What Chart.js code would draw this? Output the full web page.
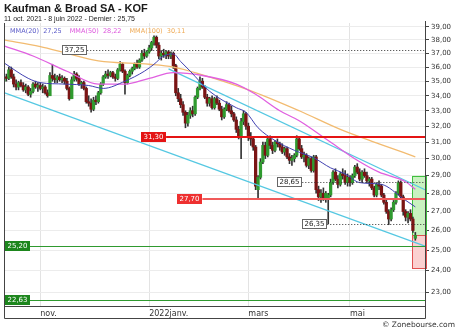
<!DOCTYPE html>
<html><head><meta charset="utf-8">
<script src="https://cdn.jsdelivr.net/npm/chart.js@4.4.1/dist/chart.umd.min.js"></script>
<style>
html,body{margin:0;padding:0;background:#fff;}
#wrap{position:relative;width:460px;height:331px;overflow:hidden;}
#c{position:absolute;left:0;top:0;}
.t{position:absolute;white-space:nowrap;line-height:1;}
#title{left:4px;top:2px;font:bold 11px "Liberation Sans",Arial,sans-serif;color:#1a1a1a;}
#sub{left:4px;top:15px;font:7px "Liberation Sans",Arial,sans-serif;color:#222;}
#leg{left:10px;top:27px;font:6.5px "DejaVu Sans",sans-serif;}
#leg span{margin-right:8px;}
#copy{right:5px;top:320px;font:7.5px "DejaVu Sans",sans-serif;color:#333;}
</style></head><body>
<div id="wrap">
<canvas id="c" width="460" height="331"></canvas>
<div class="t" id="title">Kaufman &amp; Broad SA - KOF</div>
<div class="t" id="sub">11 oct. 2021 - 8 juin 2022 - Dernier : 25,75</div>
<div class="t" id="leg"></div>
<div class="t" id="copy">© Zonebourse.com</div>
</div>
<script>
// ---- daily candles (Oct 11 2021 -> Jun 8 2022) ----
const opens = [
35.0,35.3,35.2,35.8,35.3,34.8,34.6,34.9,34.7,34.4,34.6,34.1,34.3,34.8,34.6,
34.7,34.5,34.6,34.2,34.0,35.4,35.2,35.1,35.3,35.1,35.2,35.0,34.5,33.8,35.1,35.5,35.2,34.8,34.9,34.5,33.6,33.5,
33.1,33.7,33.6,34.2,34.8,35.3,35.5,35.4,35.6,35.3,35.2,35.8,36.2,35.7,34.9,35.4,35.7,35.9,36.2,36.0,36.5,37.0,36.8,
37.1,37.4,37.8,38.2,37.6,36.8,37.0,36.9,37.1,36.8,37.0,36.1,34.2,33.8,33.4,32.9,32.2,32.7,33.0,32.8,33.9,
34.5,35.0,34.6,33.9,33.5,33.8,33.2,33.8,33.5,33.1,32.6,33.1,33.4,33.0,32.8,32.4,31.8,31.3,32.3,32.8,
32.0,31.3,31.2,30.7,28.2,28.9,29.8,30.8,30.2,31.2,30.8,30.5,31.0,30.9,30.7,30.4,30.6,30.1,29.9,30.0,30.2,31.2,30.6,
30.1,30.2,29.6,30.0,29.3,30.1,28.2,27.8,28.0,27.7,27.7,27.9,28.6,29.2,28.8,28.5,29.1,29.0,28.6,
28.9,28.6,29.0,29.5,29.2,28.8,29.2,29.0,28.7,28.8,28.3,27.9,28.5,28.4,27.9,27.5,27.0,26.6,27.1,27.5,28.0,28.6,
27.8,27.0,26.7,26.9,26.6,25.6];
const highs = [
35.4,35.5,36.0,36.0,35.5,35.1,35.0,35.1,34.9,34.8,34.7,34.5,34.9,35.0,34.9,
34.9,34.8,34.7,34.4,35.6,36.2,35.5,35.4,35.5,35.4,35.3,35.2,34.6,35.3,35.7,35.6,35.4,35.0,35.0,34.6,34.0,33.8,
33.9,34.0,34.3,34.9,35.4,35.7,35.8,35.7,35.7,35.5,35.9,36.4,36.3,35.8,35.5,35.8,36.0,36.3,36.5,36.6,37.2,37.3,37.2,
37.6,37.9,38.3,38.3,37.8,37.2,37.3,37.2,37.2,37.1,37.1,36.2,34.5,34.1,33.6,33.0,32.9,33.2,33.3,34.0,34.6,
35.3,35.2,34.7,34.1,33.9,34.0,33.9,34.0,33.7,33.3,33.2,33.6,33.5,33.3,32.9,32.6,32.0,32.5,33.0,32.9,
32.2,31.6,31.3,30.8,29.0,30.0,31.0,31.0,31.3,31.4,31.0,31.1,31.2,31.0,30.9,30.7,30.7,30.3,30.2,30.3,31.4,31.3,30.8,
30.4,30.3,30.1,30.1,30.2,30.2,28.4,28.2,28.3,28.1,28.0,28.8,29.3,29.4,29.0,29.2,29.4,29.3,29.1,
29.0,29.1,29.6,29.7,29.4,29.3,29.4,29.2,28.9,28.9,28.4,28.6,28.7,28.5,28.0,27.7,27.1,27.2,27.6,28.1,28.7,28.7,
27.9,27.1,27.0,27.1,26.7,25.9];
const lows = [
34.9,35.0,35.1,35.2,34.6,34.4,34.4,34.6,34.3,34.2,34.0,33.9,34.2,34.5,34.3,
34.4,34.2,34.1,33.9,34.0,35.0,34.9,34.9,35.0,34.9,34.8,34.4,33.7,33.8,35.0,35.0,34.7,34.5,34.4,33.5,33.3,32.9,
33.0,33.4,33.5,34.1,34.7,35.2,35.2,35.3,35.2,35.0,35.1,35.7,35.6,34.1,34.8,35.3,35.5,35.8,35.9,35.9,36.4,36.6,36.7,
37.0,37.2,37.6,37.4,36.6,36.5,36.7,36.6,36.6,36.6,35.9,34.0,33.6,33.2,32.7,31.9,32.0,32.5,32.6,32.7,33.8,
34.4,34.5,33.8,33.3,33.3,33.1,33.1,33.4,33.0,32.4,32.5,33.0,32.9,32.6,32.3,31.6,31.2,30.0,32.1,31.8,
31.1,30.8,30.5,28.2,27.7,28.8,29.7,30.0,30.1,30.6,30.3,30.4,30.7,30.5,30.3,30.2,30.0,29.7,29.6,29.8,30.1,30.5,30.0,
29.8,29.5,29.4,29.2,29.2,28.0,27.6,27.5,27.6,27.5,26.35,27.8,28.5,28.7,28.3,28.4,28.8,28.5,28.4,
28.4,28.5,28.9,29.1,28.7,28.6,28.9,28.6,28.4,28.2,27.8,27.8,28.2,27.8,27.4,26.9,26.3,26.5,27.0,27.4,27.9,27.7,
26.8,26.5,26.4,26.5,25.9,25.5];
const closes = [
35.3,35.2,35.8,35.3,34.8,34.6,34.9,34.7,34.4,34.6,34.1,34.3,34.8,34.6,34.7,
34.5,34.6,34.2,34.0,35.4,35.2,35.1,35.3,35.1,35.2,35.0,34.5,33.8,35.1,35.5,35.2,34.8,34.9,34.5,33.6,33.5,33.1,
33.7,33.6,34.2,34.8,35.3,35.5,35.4,35.6,35.3,35.2,35.8,36.2,35.7,34.9,35.4,35.7,35.9,36.2,36.0,36.5,37.0,36.8,37.1,
37.4,37.8,38.2,37.6,36.8,37.0,36.9,37.1,36.8,37.0,36.1,34.2,33.8,33.4,32.9,32.2,32.7,33.0,32.8,33.9,34.5,
35.0,34.6,33.9,33.5,33.8,33.2,33.8,33.5,33.1,32.6,33.1,33.4,33.0,32.8,32.4,31.8,31.3,32.3,32.8,32.0,
31.3,31.2,30.7,28.4,28.9,29.8,30.8,30.2,31.2,30.8,30.5,31.0,30.9,30.7,30.4,30.6,30.1,29.9,30.0,30.2,31.2,30.6,30.1,
30.2,29.6,30.0,29.3,30.1,28.2,27.8,28.0,27.7,28.0,27.9,28.6,29.2,28.8,28.5,29.1,29.0,28.6,28.9,
28.6,29.0,29.5,29.2,28.8,29.2,29.0,28.7,28.8,28.3,27.9,28.5,28.4,27.9,27.5,27.0,26.6,27.1,27.5,28.0,28.6,27.8,
27.0,26.7,26.9,26.6,26.0,25.75];

// ---- moving averages (values read at given trading-day indices) ----
const ma20Idx = [0,10,15,25,35,41,50,58,62,66,70,73,77,85,96,100,105,112,120,128,135,141,147,156,165,170];
const ma20    = [36.3,35.2,34.9,34.8,34.7,34.5,35.0,35.7,36.2,36.8,36.95,36.4,35.7,34.3,33.2,32.9,31.9,31.1,30.5,30.05,29.45,29.1,28.6,28.5,27.7,27.25];
const ma50Idx = [0,12,26,39,50,60,70,82,96,104,114,122,134,146,155,166,170];
const ma50    = [37.55,36.8,35.7,34.8,34.8,35.2,35.6,35.4,34.8,34.1,33.0,32.35,31.1,29.9,29.2,28.65,28.22];
const ma100Idx = [0,15,26,39,60,70,81,101,122,139,155,170];
const ma100    = [38.0,37.5,37.0,36.45,36.2,36.0,35.5,34.4,33.0,31.8,30.9,30.11];
const maNames = ['MMA(20)','MMA(50)','MMA(100)'];

// ---- trend channel (index, price) ----
const trendUpIdx = [68,174], trendUp = [35.87,28.2];
const trendLoIdx = [0,174],  trendLo = [34.21,25.2];

// ---- horizontal levels ----
const levelValues = [37.25, 31.30, 27.70, 28.65, 26.35, 25.20, 22.63];
const levelKinds  = ['dot','red','red2','dot','dot','green','green'];
const levelFrom   = [34.4, 67, 82, 123.3, 133.6, null, null];

// ---- last-bar projection box ----
const boxTop = 29.0, boxMid = 25.75, boxBottom = 24.1;

// ---- axes ----
const yTicks = [23,24,25,26,27,28,29,30,31,32,33,34,35,36,37,38,39];
const monthTicks = {'2021-11-01':'nov.','2022-01-03':'2022janv.','2022-03-01':'mars','2022-05-02':'mai'};
const holidays = ['2022-04-15','2022-04-18'];

function tradingDays(a,b){
  const out=[]; let d=new Date(a+'T00:00:00Z'); const e=new Date(b+'T00:00:00Z');
  while(d<=e){const w=d.getUTCDay();const s=d.toISOString().slice(0,10);
    if(w!==0&&w!==6&&!holidays.includes(s))out.push(s); d=new Date(d.getTime()+86400000);}
  return out;
}
const dates = tradingDays('2021-10-11','2022-06-08');
const labels = dates.concat(['+1','+2','+3','+4']);

const fmt = v => v.toFixed(2).replace('.', ',');
const cols = ['#5a5ac8','#dd55dd','#efaa55'];
const maLast=[ma20[ma20.length-1],ma50[ma50.length-1],ma100[ma100.length-1]];
document.getElementById('leg').innerHTML = maNames.map((n,k)=>'<span style="color:'+cols[k]+'">'+n+'&nbsp; '+fmt(maLast[k])+'</span>').join('');

const pts = (idx,vals)=>idx.map((x,k)=>({x:labels[x],y:vals[k]}));
const UP='#2f9a2f', DOWN='#7a1414';

const levelPlugin = {
  id:'levels',
  beforeDatasetsDraw(chart){
    const {ctx, chartArea:a, scales:{x,y}} = chart;
    const x0 = x.getPixelForValue(closes.length-1)-3, x1 = a.right+1;
    const yt=y.getPixelForValue(boxTop), ym=y.getPixelForValue(boxMid), yb=y.getPixelForValue(boxBottom);
    ctx.save();
    ctx.fillStyle='#c9f2c0'; ctx.fillRect(x0,yt,x1-x0,ym-yt);
    ctx.strokeStyle='#3fbf3f'; ctx.lineWidth=1; ctx.strokeRect(Math.round(x0)+0.5,Math.round(yt)+0.5,Math.round(x1-x0),Math.round(ym-yt));
    ctx.fillStyle='#fbd0d0'; ctx.fillRect(x0,ym,x1-x0,yb-ym);
    ctx.strokeStyle='#e05050'; ctx.strokeRect(Math.round(x0)+0.5,Math.round(ym)+0.5,Math.round(x1-x0),Math.round(yb-ym));
    ctx.restore();
  },
  afterDatasetsDraw(chart){
    const {ctx, chartArea:a, scales:{x,y}} = chart;
    ctx.save();
    ctx.font='7px "DejaVu Sans"'; ctx.textBaseline='middle';
    levelValues.forEach((v,k)=>{
      const kind=levelKinds[k]; const py=Math.round(y.getPixelForValue(v));
      const txt=fmt(v); const tw=ctx.measureText(txt).width; const bw=Math.round(tw+5), bh=10;
      let lx0, bx;
      if(kind==='green'){ bx=a.left+1; lx0=a.left; }
      else { lx0=x.getPixelForValue(levelFrom[k]); bx=Math.round(lx0-bw); }
      ctx.beginPath();
      if(kind==='dot'){ctx.strokeStyle='#333';ctx.lineWidth=1;ctx.setLineDash([1,2]);ctx.moveTo(lx0,py+0.5);ctx.lineTo(a.right,py+0.5);}
      else if(kind==='red'){ctx.strokeStyle='#e41414';ctx.lineWidth=2;ctx.setLineDash([]);ctx.moveTo(lx0,py);ctx.lineTo(a.right,py);}
      else if(kind==='red2'){ctx.strokeStyle='#f05a5a';ctx.lineWidth=2;ctx.setLineDash([]);ctx.moveTo(lx0,py);ctx.lineTo(a.right,py);}
      else {ctx.strokeStyle='#2f9a2f';ctx.lineWidth=1;ctx.setLineDash([]);ctx.moveTo(lx0,py+0.5);ctx.lineTo(a.right,py+0.5);}
      ctx.stroke(); ctx.setLineDash([]);
      const by=py-bh/2;
      if(kind==='dot'){ctx.fillStyle='#fff';ctx.fillRect(bx,by,bw,bh);ctx.strokeStyle='#666';ctx.lineWidth=1;ctx.strokeRect(bx+0.5,by+0.5,bw-1,bh-1);ctx.fillStyle='#222';}
      else if(kind==='green'){ctx.fillStyle='#1d861d';ctx.fillRect(bx,by,bw,bh);ctx.fillStyle='#fff';}
      else {ctx.fillStyle=kind==='red'?'#e41414':'#ee3030';ctx.fillRect(bx,by,bw,bh);ctx.fillStyle='#fff';}
      ctx.textAlign='center'; ctx.fillText(txt,bx+bw/2,py+0.5);
    });
    ctx.restore();
  },
  afterDraw(chart){
    const {ctx, chartArea:a} = chart;
    ctx.save();
    ctx.fillStyle='#fff'; ctx.fillRect(a.right+1,0,chart.width-a.right,a.top-1);
    ctx.strokeStyle='#444'; ctx.lineWidth=1;
    ctx.beginPath();
    ctx.moveTo(a.left+0.5,a.top); ctx.lineTo(a.left+0.5,a.bottom+12.5); ctx.lineTo(a.right+0.5,a.bottom+12.5); ctx.lineTo(a.right+0.5,a.top-2);
    ctx.stroke();
    ctx.restore();
  }
};

Chart.defaults.font.family='"DejaVu Sans", sans-serif';
Chart.defaults.font.size=7;
Chart.defaults.color='#333';

new Chart(document.getElementById('c'), {
  type:'bar',
  data:{ labels, datasets:[
    {type:'line', data:pts(ma20Idx,ma20), borderColor:'#4040b0', borderWidth:1, pointRadius:0, cubicInterpolationMode:'monotone', order:1},
    {type:'line', data:pts(ma50Idx,ma50), borderColor:'#e060e0', borderWidth:1.3, pointRadius:0, cubicInterpolationMode:'monotone', order:2},
    {type:'line', data:pts(ma100Idx,ma100), borderColor:'#f2bb70', borderWidth:1.3, pointRadius:0, cubicInterpolationMode:'monotone', order:3},
    {type:'line', data:pts(trendUpIdx,trendUp), borderColor:'#55c8e2', borderWidth:1.2, pointRadius:0, order:4},
    {type:'line', data:pts(trendLoIdx,trendLo), borderColor:'#55c8e2', borderWidth:1.2, pointRadius:0, order:4},
    {data:lows.map((l,i)=>[l,highs[i]]), backgroundColor:'#333', barThickness:1, grouped:false, borderSkipped:false, order:11},
    {data:opens.map((o,i)=>[o,closes[i]]), backgroundColor:opens.map((o,i)=>closes[i]>=o?UP:DOWN), barThickness:2.6, grouped:false, borderSkipped:false, minBarLength:1, order:10}
  ]},
  options:{
    responsive:false, animation:false, devicePixelRatio:1,
    layout:{padding:{left:4,top:23,right:0,bottom:13}},
    plugins:{legend:{display:false},tooltip:{enabled:false}},
    scales:{
      x:{ type:'category', offset:false,
        afterFit(s){s.height=12;},
        grid:{offset:false, drawTicks:false, color:(c)=> (c.tick && monthTicks[labels[c.index]]) ? '#e3e3e3' : 'rgba(0,0,0,0)'},
        border:{display:true,color:'#444'},
        ticks:{autoSkip:false, maxRotation:0, align:'start', padding:3, font:{size:8},
          callback:(v,i)=> monthTicks[labels[i]] || ''}
      },
      y:{ type:'logarithmic', position:'right', min:22.37, max:39.3,
        afterBuildTicks(s){ s.ticks = yTicks.map(v=>({value:v})); },
        afterFit(s){s.width=35;},
        grid:{color:'#ececec', tickLength:4, tickColor:'#444'},
        border:{display:true,color:'#444'},
        ticks:{padding:2, callback:(v)=>fmt(v), font:{size:7}}
      }
    }
  },
  plugins:[levelPlugin]
});
</script>
</body></html>
